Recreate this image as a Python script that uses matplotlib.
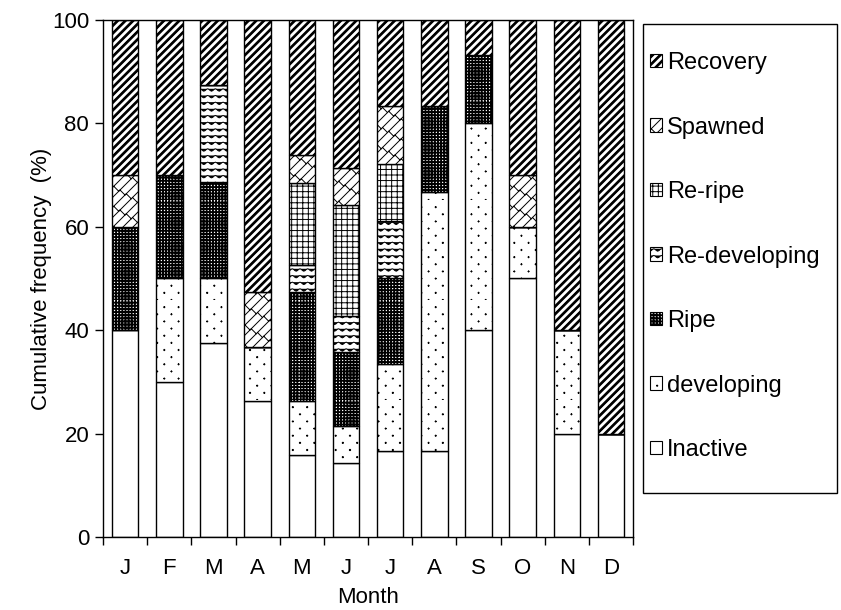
import warnings

import matplotlib
matplotlib.use("Agg")
import matplotlib.pyplot as plt
import numpy as np
from matplotlib import hatch as mhatch
from matplotlib.patches import Patch, Rectangle
from matplotlib.path import Path

warnings.filterwarnings("ignore", category=matplotlib.MatplotlibDeprecationWarning)

months = ["J", "F", "M", "A", "M", "J", "J", "A", "S", "O", "N", "D"]

# cumulative-stack components (% of fish per month)
inactive = [40, 30, 37.5, 26.3, 15.8, 14.3, 16.7, 16.7, 40, 50, 20, 20]
developing = [0, 20, 12.5, 10.5, 10.5, 7.1, 16.7, 50, 40, 10, 20, 0]
ripe = [20, 20, 18.75, 0, 21.1, 14.3, 16.6, 16.6, 13.3, 0, 0, 0]
redeveloping = [0, 0, 18.75, 0, 5.3, 7.1, 11.1, 0, 0, 0, 0, 0]
reripe = [0, 0, 0, 0, 15.8, 21.4, 11.1, 0, 0, 0, 0, 0]
spawned = [10, 0, 0, 10.5, 5.3, 7.1, 11.1, 0, 0, 10, 0, 0]
recovery = [30, 30, 12.5, 52.7, 26.2, 28.7, 16.7, 16.7, 6.7, 30, 60, 80]

stages = ["Inactive", "developing", "Ripe", "Re-developing", "Re-ripe",
          "Spawned", "Recovery"]
values = [inactive, developing, ripe, redeveloping, reripe, spawned, recovery]


# --- extra hatch patterns (polylines in the unit hatch tile) ---------------
def _wavy():
    xs = np.linspace(0.0, 1.0, 13 * 6 + 1)
    rows = 15
    return [np.column_stack([xs, (i + 0.5) / rows
                             + 0.18 / rows * np.cos(2 * np.pi * 13 * xs)])
            for i in range(rows)]


def _bricks():
    N, M = 10, 8
    out = []
    for k in range(-N, N):
        c = k / N
        out.append(np.array([[-0.5, -0.5 + c], [1.5, 1.5 + c]]))
        for j in range(-1, M + 1):
            a = (j + 0.5 * (k % 2)) / M
            out.append(np.array([[a, a + c], [a - 0.5 / N, a + c + 0.5 / N]]))
    return out


def _thick_stripes():
    n = 13
    out = []
    for k in range(-n, n + 1):
        for d in (-0.012, 0.0, 0.012):
            c = k / n + d
            out.append(np.array([[-0.5, -0.5 + c], [1.5, 1.5 + c]]))
    return out


def _dense_grid():
    n = 32
    out = []
    for k in range(n):
        for d in (0.0, 0.009):
            p = k / n + d
            out.append(np.array([[0.0, p], [1.0, p]]))
            out.append(np.array([[p, 0.0], [p, 1.0]]))
    return out


def _sparse_dots():
    rows, cols = 14, 7
    out = []
    for i in range(rows):
        for j in range(cols + 1):
            px = (j + 0.5 * (i % 2)) / cols
            py = i / rows
            out.append(np.array([[px - 0.006, py], [px + 0.006, py]]))
            out.append(np.array([[px, py - 0.006], [px, py + 0.006]]))
    return out


def _make_hatch(char, builder):
    class _Hatch(mhatch.HatchPatternBase):
        def __init__(self, hatch, density):
            self.lines = builder() if char in hatch else []
            self.num_vertices = sum(len(ln) for ln in self.lines)

        def set_vertices_and_codes(self, vertices, codes):
            cur = 0
            for ln in self.lines:
                k = len(ln)
                vertices[cur:cur + k] = ln
                codes[cur] = Path.MOVETO
                codes[cur + 1:cur + k] = Path.LINETO
                cur += k
    return _Hatch


for ch, fn in [("~", _wavy), ("#", _bricks), ("S", _thick_stripes),
               ("R", _dense_grid), ("d", _sparse_dots)]:
    mhatch._hatch_types.append(_make_hatch(ch, fn))

hatches = {
    "Inactive": None,
    "developing": "d",
    "Ripe": "R",
    "Re-developing": "~",
    "Re-ripe": "+++",
    "Spawned": "#",
    "Recovery": "S",
}

plt.rcParams["font.family"] = ["Liberation Sans", "DejaVu Sans"]
plt.rcParams["font.size"] = 16
plt.rcParams["hatch.linewidth"] = 0.7

fig = plt.figure(figsize=(8.41, 6.10), dpi=100)
ax = fig.add_axes([0.1225, 0.1197, 0.7527 - 0.1225, 0.9672 - 0.1197])

x = np.arange(len(months))
bottom = np.zeros(len(months))
handles = []
for name, vals in zip(stages, values):
    ax.bar(x, vals, width=0.6, bottom=bottom, color="white",
           edgecolor="black", linewidth=1.0, hatch=hatches[name])
    handles.append(Patch(facecolor="white", edgecolor="black", linewidth=0.8,
                         hatch=hatches[name], label=name))
    bottom += np.asarray(vals, dtype=float)

ax.set_xlim(-0.5, len(months) - 0.5)
ax.set_ylim(0, 100)
ax.set_yticks(np.arange(0, 101, 20))
ax.set_xticks(np.arange(-0.5, len(months), 1.0))
ax.set_xticklabels([])
ax.set_xticks(x, minor=True)
ax.set_xticklabels(months, minor=True)
ax.tick_params(axis="both", which="major", direction="out", length=6,
               width=1.0, labelsize=16, pad=4)
ax.tick_params(axis="x", which="minor", length=0, pad=15, labelsize=16)
for sp in ax.spines.values():
    sp.set_linewidth(1.0)

ax.set_xlabel("Month", labelpad=6)
ax.set_ylabel("Cumulative frequency  (%)", labelpad=0)

# legend box drawn separately so the padding matches
fig.patches.append(Rectangle((0.7646, 0.1918), 0.2307, 0.7689,
                             transform=fig.transFigure, fill=False,
                             edgecolor="black", linewidth=1.0))
fig.legend(handles=handles[::-1], loc="center left",
           bbox_to_anchor=(0.7729, 0.5795), frameon=False, borderpad=0,
           borderaxespad=0, labelspacing=1.8, handlelength=0.5,
           handleheight=0.5, handletextpad=0.22, fontsize=17)

fig.savefig("out.png", dpi=100)
plt.close(fig)
